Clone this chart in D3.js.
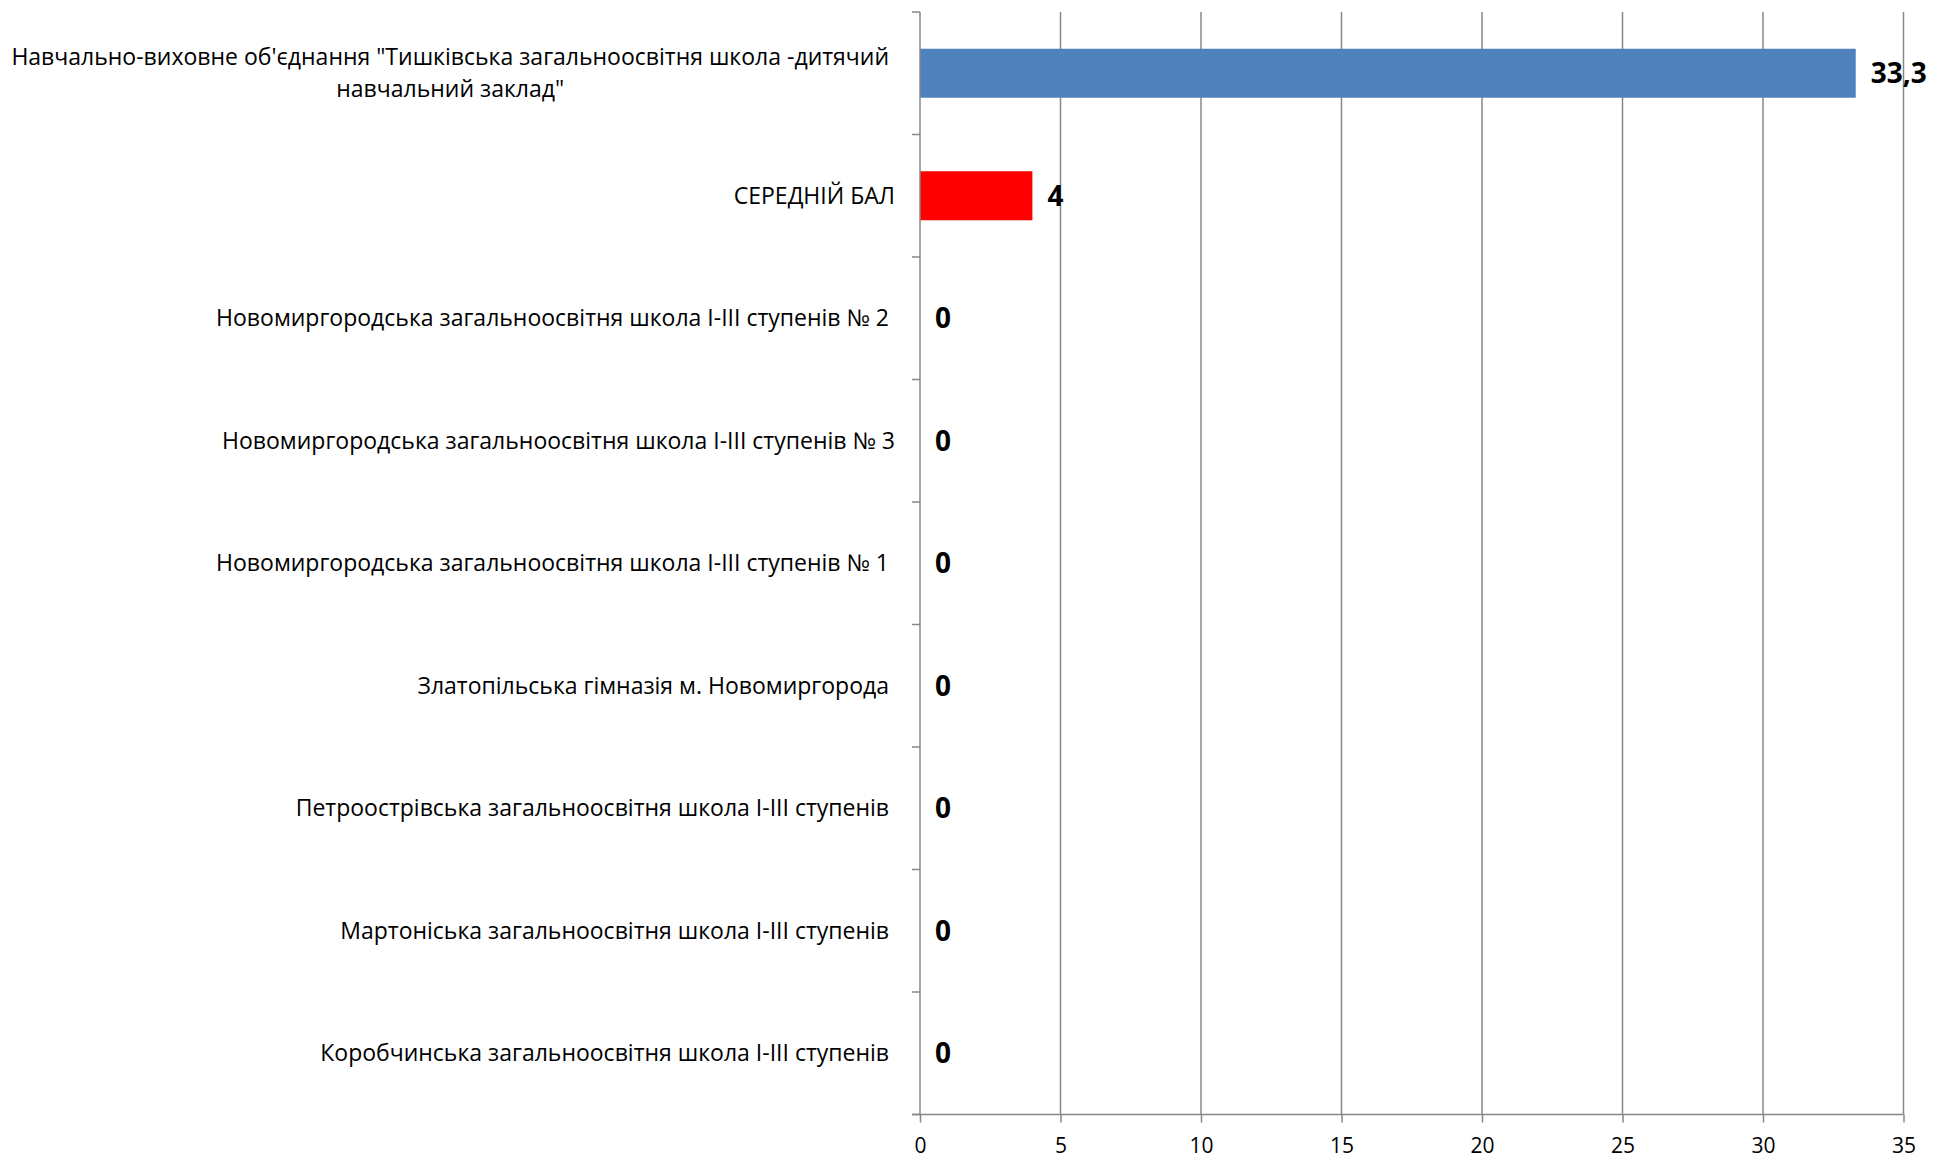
<!DOCTYPE html>
<html>
<head>
<meta charset="utf-8">
<script src="https://cdn.jsdelivr.net/npm/d3@7"></script>
<style>
  html, body { margin: 0; padding: 0; background: #ffffff; }
  svg { display: block; }
  text { font-family: "Open Sans", "DejaVu Sans", sans-serif; white-space: pre; }
</style>
</head>
<body>
<svg id="chart" width="1934" height="1160"></svg>
<script>
// ---- data ----
const categories = [
  'Навчально-виховне об\'єднання "Тишківська загальноосвітня школа -дитячий навчальний заклад" ',
  'СЕРЕДНІЙ БАЛ',
  'Новомиргородська загальноосвітня школа І-ІІІ ступенів № 2 ',
  'Новомиргородська загальноосвітня школа І-ІІІ ступенів № 3',
  'Новомиргородська загальноосвітня школа І-ІІІ ступенів № 1 ',
  'Златопільська гімназія м. Новомиргорода ',
  'Петроострівська загальноосвітня школа І-ІІІ ступенів ',
  'Мартоніська загальноосвітня школа І-ІІІ ступенів ',
  'Коробчинська загальноосвітня школа І-ІІІ ступенів '
];
const values = [33.3, 4, 0, 0, 0, 0, 0, 0, 0];
const barColors = ['#4F81BD', '#FF0000', '#4F81BD', '#4F81BD', '#4F81BD', '#4F81BD', '#4F81BD', '#4F81BD', '#4F81BD'];
const xTicks = [0, 5, 10, 15, 20, 25, 30, 35];

// ---- layout ----
const plotLeft = 920, plotRight = 1903.5, plotTop = 12, plotBottom = 1114.5;
const labelFont = 23;
const svg = d3.select('#chart');

const x = d3.scaleLinear().domain([0, 35]).range([plotLeft, plotRight]);
const y = d3.scaleBand().domain(categories).range([plotTop, plotBottom]).paddingInner(0.6).paddingOuter(0.3);
const yStep = y.step();

// gridlines
svg.append('g').selectAll('line').data(xTicks.filter(d => d > 0)).join('line')
  .attr('x1', d => x(d)).attr('x2', d => x(d))
  .attr('y1', plotTop).attr('y2', plotBottom)
  .attr('stroke', '#878787').attr('stroke-width', 1.5);

// bars
svg.append('g').selectAll('rect').data(categories).join('rect')
  .attr('x', x(0))
  .attr('y', d => y(d))
  .attr('width', (d, i) => x(values[i]) - x(0))
  .attr('height', y.bandwidth())
  .attr('fill', (d, i) => barColors[i]);

// x axis
const xAxis = svg.append('g').attr('transform', `translate(0,${plotBottom})`)
  .call(d3.axisBottom(x).tickValues(xTicks).tickSize(8).tickPadding(16).tickFormat(d3.format('d')));
xAxis.select('.domain').remove();
xAxis.selectAll('.tick line').attr('stroke', '#878787').attr('stroke-width', 1.5);
xAxis.selectAll('.tick text').attr('font-size', 21).attr('fill', '#000')
  .attr('font-family', '"Open Sans", sans-serif');
svg.append('line').attr('x1', plotLeft - 8).attr('x2', plotRight).attr('y1', plotBottom).attr('y2', plotBottom)
  .attr('stroke', '#878787').attr('stroke-width', 1.5);

// y axis line and ticks at category boundaries
svg.append('line').attr('x1', plotLeft).attr('x2', plotLeft).attr('y1', plotTop).attr('y2', plotBottom)
  .attr('stroke', '#878787').attr('stroke-width', 1.5);
const boundaries = d3.range(categories.length + 1).map(i => plotTop + i * yStep);
svg.append('g').selectAll('line').data(boundaries).join('line')
  .attr('x1', plotLeft - 8).attr('x2', plotLeft)
  .attr('y1', d => d).attr('y2', d => d)
  .attr('stroke', '#878787').attr('stroke-width', 1.5);

// category labels
const labelRight = 895;
const maxLabelWidth = 900;
const lg = svg.append('g');
const measure = s => {
  const p = lg.append('text').attr('font-size', labelFont).text(s);
  const w = p.node().getComputedTextLength(); p.remove(); return w;
};
categories.forEach((c, i) => {
  const cy = y(c) + y.bandwidth() / 2;
  const words = c.split(' ');
  const lines = [];
  let cur = '';
  words.forEach(w => {
    const t = cur ? cur + ' ' + w : w;
    if (measure(t) > maxLabelWidth && cur) { lines.push(cur); cur = w; }
    else cur = t;
  });
  lines.push(cur);
  const shown = lines.map((l, k) => (k < lines.length - 1 ? l + ' ' : l));
  const widths = shown.map(measure);
  const blockW = d3.max(widths);
  const cxBlock = labelRight - blockW / 2;
  const lh = 32;
  shown.forEach((l, k) => {
    lg.append('text')
      .attr('x', cxBlock)
      .attr('y', cy + (k - (lines.length - 1) / 2) * lh)
      .attr('dy', '0.35em')
      .attr('text-anchor', 'middle')
      .attr('font-size', labelFont)
      .attr('fill', '#000')
      .text(l);
  });
});

// value labels
const fmt = v => String(v).replace('.', ',');
svg.append('g').selectAll('text').data(categories).join('text')
  .attr('x', (d, i) => x(values[i]) + 15)
  .attr('y', d => y(d) + y.bandwidth() / 2)
  .attr('dy', '0.36em')
  .attr('font-size', 28)
  .attr('font-weight', 'bold')
  .attr('fill', '#000')
  .text((d, i) => fmt(values[i]));
</script>
</body>
</html>
